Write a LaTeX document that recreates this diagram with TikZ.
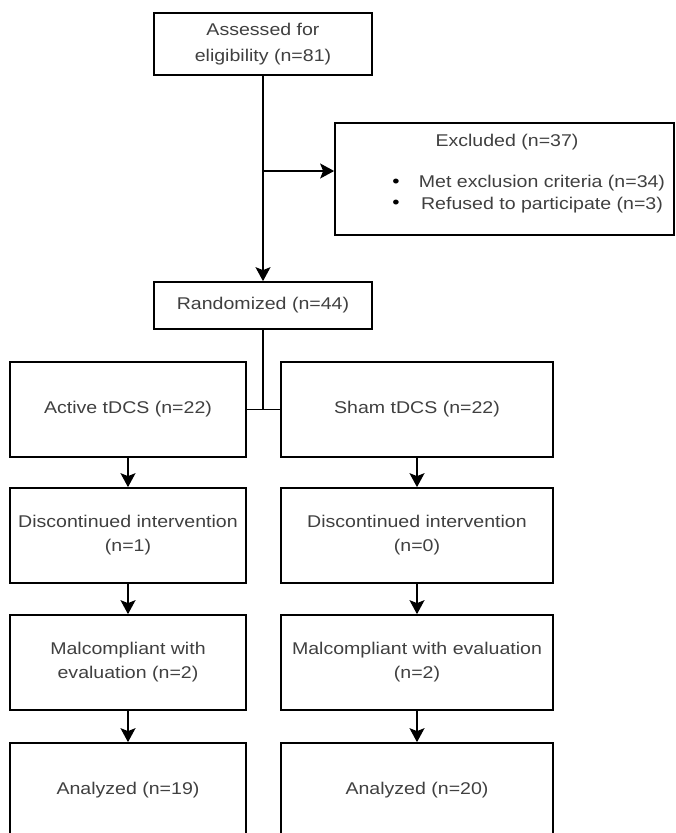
\documentclass[tikz,border=0pt]{standalone}
\usepackage{fontspec}
\setmainfont{Liberation Sans}[FakeStretch=1.15]
\usetikzlibrary{arrows.meta}
\definecolor{txt}{RGB}{64,64,64}
\tikzset{
  box/.style={draw=black, line width=1.7pt, inner sep=0pt, align=center,
    text=txt, font=\fontsize{17pt}{24pt}\selectfont},
  lbl/.style={inner sep=0pt, text=txt, font=\fontsize{17pt}{24pt}\selectfont, align=center},
  conn/.style={draw=black, line width=1.7pt},
  arr/.style={conn, -{Stealth[width=15pt,length=14pt,inset=3pt]}}
}
\begin{document}
\begin{tikzpicture}[x=1pt,y=-1pt]
\useasboundingbox (0,0) rectangle (675,833);
\clip (0,0) rectangle (675,833);
\fill[white] (0,0) rectangle (675,833);

\node[box, minimum width=218pt, minimum height=62pt, font=\fontsize{17pt}{26pt}\selectfont] (assess) at (263,44) {Assessed for\\eligibility (n=81)};
\node[box, minimum width=339pt, minimum height=112pt] (excl) at (504.5,179) {};
\node[lbl] (exclt) at (507,142) {Excluded (n=37)};
\node[lbl] (ex1) at (542,183) {Met exclusion criteria (n=34)};
\node[lbl] (ex2) at (542,205) {Refused to participate (n=3)};
\node[lbl, text=black, font=\fontsize{18pt}{18pt}\selectfont] (bul1) at (396,183) {•};
\node[lbl, text=black, font=\fontsize{18pt}{18pt}\selectfont] (bul2) at (396,204) {•};

\node[box, minimum width=218pt, minimum height=47pt] (rand) at (263,305.5) {Randomized (n=44)};

\node[box, minimum width=236pt, minimum height=95pt] (active) at (128,409.5) {Active tDCS (n=22)};
\node[box, minimum width=272pt, minimum height=95pt] (sham) at (417,409.5) {Sham tDCS (n=22)};

\node[box, minimum width=236pt, minimum height=95pt] (disc1) at (128,535.5) {Discontinued intervention\\(n=1)};
\node[box, minimum width=272pt, minimum height=95pt] (disc2) at (417,535.5) {Discontinued intervention\\(n=0)};

\node[box, minimum width=236pt, minimum height=95pt] (malc1) at (128,662.5) {Malcompliant with\\evaluation (n=2)};
\node[box, minimum width=272pt, minimum height=95pt] (malc2) at (417,662.5) {Malcompliant with evaluation\\(n=2)};

\node[box, minimum width=236pt, minimum height=95pt] (anal1) at (128,790.5) {Analyzed (n=19)};
\node[box, minimum width=272pt, minimum height=95pt] (anal2) at (417,790.5) {Analyzed (n=20)};

% connectors
\draw[arr] (assess) -- (rand);
\coordinate (br) at (263,171);
\draw[arr] (br) -- (br -| excl.west);
\coordinate (jn) at (263,409.5);
\draw[conn] (rand) -- (jn);
\draw[conn] (active.east) -- (sham.west);

\draw[arr] (active) -- (disc1);
\draw[arr] (disc1) -- (malc1);
\draw[arr] (malc1) -- (anal1);
\draw[arr] (sham) -- (disc2);
\draw[arr] (disc2) -- (malc2);
\draw[arr] (malc2) -- (anal2);
\end{tikzpicture}
\end{document}
